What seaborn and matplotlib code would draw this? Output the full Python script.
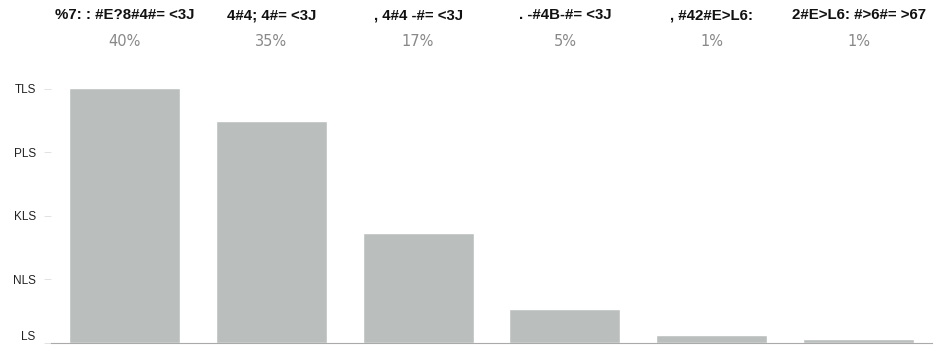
import matplotlib
matplotlib.use("Agg")
import matplotlib.pyplot as plt
import matplotlib.transforms as mtransforms
import seaborn as sb
import pandas as pd

# labels as they appear in the picture
labels = ['%7: : #E?8#4#= <3J', '4#4; 4#= <3J', ', 4#4 -#= <3J',
          '. -#4B-#= <3J', ', #42#E>L6:', '2#E>L6: #>6#= >67']
shares = ['40%', '35%', '17%', '5%', '1%', '1%']
values = [40.2, 35.0, 17.3, 5.4, 1.2, 0.6]
yticks = [0, 10, 20, 30, 40]
ytick_labels = ['LS', 'NLS', 'KLS', 'PLS', 'TLS']

sb.set_style('white')
plt.rcParams['font.family'] = ['DejaVu Sans']

df = pd.DataFrame({'label': labels, 'value': values})

fig = plt.figure(figsize=(9.37, 3.45), dpi=100)
ax = fig.add_axes([0.0544, 0.0058, 0.9403, 0.762])

sb.barplot(data=df, x='label', y='value', color='#babfbe', saturation=1,
           width=0.755, ax=ax)

ax.set_xlim(-0.5, 5.5)
ax.set_ylim(0, 41.4)
ax.set_xlabel('')
ax.set_ylabel('')
ax.set_xticks([])
ax.set_yticks(yticks)
ax.set_yticklabels(ytick_labels, fontsize=8.5, color='#222222',
                   family='Liberation Sans')
ax.get_yticklabels()[0].set_verticalalignment('bottom')
ax.tick_params(axis='y', length=5, width=0.6, color='#dddddd', pad=6, left=True)

for s in ['top', 'right', 'left']:
    ax.spines[s].set_visible(False)
ax.spines['bottom'].set_color('#aaaaaa')
ax.spines['bottom'].set_linewidth(0.8)

trans = mtransforms.blended_transform_factory(ax.transData, fig.transFigure)
for i, (lab, sh) in enumerate(zip(labels, shares)):
    ax.text(i, 1 - 15 / 345, lab, transform=trans, ha='center', va='center',
            fontsize=10.8, fontweight='bold', color='#111111',
            family='Liberation Sans')
    ax.text(i, 1 - 42 / 345, sh, transform=trans, ha='center', va='center',
            fontsize=10.5, color='#888888')

fig.savefig('out.png', dpi=100)
